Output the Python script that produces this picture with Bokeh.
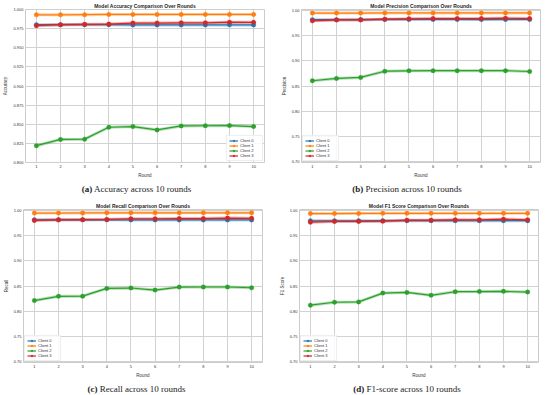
from bokeh.plotting import figure
from bokeh.layouts import column, row
from bokeh.models import Div, Range1d, FixedTicker, NumeralTickFormatter
from bokeh.embed import file_html
from bokeh.resources import INLINE

rounds = [1, 2, 3, 4, 5, 6, 7, 8, 9, 10]
clients = ["Client 0", "Client 1", "Client 2", "Client 3"]
colors = ["#1f77b4", "#ff7f0e", "#2ca02c", "#d62728"]

acc_c0 = [0.9805, 0.9805, 0.9805, 0.9805, 0.9803, 0.9803, 0.9803, 0.9802, 0.9804, 0.9803]
acc_c1 = [0.9935, 0.9935, 0.9937, 0.9940, 0.9940, 0.9940, 0.9940, 0.9940, 0.9940, 0.9940]
acc_c2 = [0.8216, 0.8298, 0.8302, 0.8458, 0.8467, 0.8423, 0.8475, 0.8478, 0.8480, 0.8467]
acc_c3 = [0.9793, 0.9806, 0.9810, 0.9814, 0.9827, 0.9827, 0.9830, 0.9830, 0.9838, 0.9836]

prec_c0 = [0.9810, 0.9810, 0.9812, 0.9815, 0.9815, 0.9815, 0.9813, 0.9812, 0.9814, 0.9813]
prec_c1 = [0.9940, 0.9940, 0.9940, 0.9942, 0.9942, 0.9942, 0.9942, 0.9942, 0.9942, 0.9942]
prec_c2 = [0.8604, 0.8650, 0.8670, 0.8792, 0.8800, 0.8802, 0.8803, 0.8803, 0.8803, 0.8786]
prec_c3 = [0.9786, 0.9805, 0.9805, 0.9820, 0.9825, 0.9830, 0.9830, 0.9830, 0.9838, 0.9830]

rec_c0 = [0.9806, 0.9806, 0.9806, 0.9806, 0.9805, 0.9805, 0.9805, 0.9804, 0.9805, 0.9805]
rec_c1 = [0.9940, 0.9940, 0.9942, 0.9945, 0.9945, 0.9945, 0.9945, 0.9945, 0.9945, 0.9945]
rec_c2 = [0.8212, 0.8297, 0.8300, 0.8452, 0.8460, 0.8420, 0.8478, 0.8480, 0.8480, 0.8465]
rec_c3 = [0.9795, 0.9806, 0.9810, 0.9814, 0.9827, 0.9827, 0.9830, 0.9830, 0.9840, 0.9836]

f1_c0 = [0.9786, 0.9788, 0.9788, 0.9790, 0.9790, 0.9790, 0.9789, 0.9788, 0.9790, 0.9789]
f1_c1 = [0.9930, 0.9930, 0.9932, 0.9935, 0.9935, 0.9935, 0.9935, 0.9935, 0.9935, 0.9935]
f1_c2 = [0.8122, 0.8179, 0.8186, 0.8360, 0.8374, 0.8316, 0.8387, 0.8390, 0.8394, 0.8380]
f1_c3 = [0.9760, 0.9773, 0.9775, 0.9780, 0.9800, 0.9800, 0.9806, 0.9806, 0.9820, 0.9806]

ticks_a = [0.800, 0.825, 0.850, 0.875, 0.900, 0.925, 0.950, 0.975, 1.000]
ticks_b = [0.70, 0.75, 0.80, 0.85, 0.90, 0.95, 1.00]

FONT = "Liberation Sans"


def panel(title, ylabel, series, yr, yticks, yfmt, legend_loc,
          min_left, min_right, top):
    p = figure(frame_width=239, frame_height=153,
               x_range=Range1d(0.55, 10.45), y_range=Range1d(*yr),
               output_backend="svg", toolbar_location=None,
               min_border_left=min_left, min_border_right=min_right,
               min_border_top=top, min_border_bottom=0,
               background_fill_color="white", border_fill_color="white")
    p.title.text = title
    p.title.text_font = FONT
    p.title.text_font_size = "5px"
    p.title.text_font_style = "bold"
    p.title.text_color = "#262626"
    p.title.align = "center"
    p.title.standoff = 1
    p.outline_line_color = "#cccccc"
    p.outline_line_width = 1
    for ax in (p.xaxis[0], p.yaxis[0]):
        ax.axis_line_color = None
        ax.major_tick_line_color = None
        ax.minor_tick_line_color = None
        ax.major_tick_out = 0
        ax.major_tick_in = 0
        ax.minor_tick_out = 0
        ax.minor_tick_in = 0
        ax.major_label_text_font = FONT
        ax.major_label_text_font_size = "4px"
        ax.major_label_text_color = "#333333"
        ax.major_label_standoff = 2
        ax.axis_label_text_font = FONT
        ax.axis_label_text_font_size = "4.5px"
        ax.axis_label_text_font_style = "normal"
        ax.axis_label_text_color = "#333333"
        ax.axis_label_standoff = 2
    p.xaxis.axis_label = "Round"
    p.yaxis.axis_label = ylabel
    p.xaxis.ticker = FixedTicker(ticks=rounds)
    p.yaxis.ticker = FixedTicker(ticks=yticks)
    p.yaxis.formatter = NumeralTickFormatter(format=yfmt)
    p.xgrid.grid_line_color = "#d2d2d2"
    p.ygrid.grid_line_color = "#d2d2d2"
    p.xgrid.grid_line_width = 1
    p.ygrid.grid_line_width = 1
    for name, col, ys in zip(clients, colors, series):
        p.line(rounds, ys, line_color=col, line_width=3.0, line_alpha=0.35)
        p.line(rounds, ys, line_color=col, line_width=1.2, legend_label=name)
        p.scatter(rounds, ys, marker="circle", size=4.5, fill_color=col,
                  line_color=col, line_width=0.3, legend_label=name)
    lg = p.legend[0]
    lg.location = legend_loc
    lg.label_text_font = FONT
    lg.label_text_font_size = "4px"
    lg.label_text_color = "#333333"
    lg.glyph_width = 9
    lg.glyph_height = 5
    lg.label_height = 5
    lg.label_standoff = 2
    lg.spacing = 0
    lg.padding = 2
    lg.margin = 1
    lg.border_line_color = "#dddddd"
    lg.border_line_width = 0.6
    lg.background_fill_alpha = 0.85
    return p


pa = panel("Model Accuracy Comparison Over Rounds", "Accuracy",
           [acc_c0, acc_c1, acc_c2, acc_c3], (0.7995, 1.0005), ticks_a, "0.000",
           "bottom_right", 20, 14, 9)
pb = panel("Model Precision Comparison Over Rounds", "Precision",
           [prec_c0, prec_c1, prec_c2, prec_c3], (0.699, 1.001), ticks_b, "0.00",
           "bottom_left", 19, 10, 9)
pc = panel("Model Recall Comparison Over Rounds", "Recall",
           [rec_c0, rec_c1, rec_c2, rec_c3], (0.699, 1.001), ticks_b, "0.00",
           "bottom_left", 20, 14, 12)
pd = panel("Model F1 Score Comparison Over Rounds", "F1 Score",
           [f1_c0, f1_c1, f1_c2, f1_c3], (0.699, 1.001), ticks_b, "0.00",
           "bottom_left", 19, 10, 12)


def caption(letter, text, w):
    return Div(text="<b>(" + letter + ")</b> " + text, width=w, height=17,
               margin=0,
               styles={"text-align": "center", "font-family": "'Liberation Serif', serif",
                       "font-size": "9px", "color": "#222222", "padding-top": "3px",
                       "width": str(w) + "px"})


ca = caption("a", "Accuracy across 10 rounds", 273)
cb = caption("b", "Precision across 10 rounds", 268)
cc = caption("c", "Recall across 10 rounds", 273)
cd = caption("d", "F1-score across 10 rounds", 268)

layout = column(row(pa, pb, spacing=0), row(ca, cb, spacing=0),
                row(pc, pd, spacing=0), row(cc, cd, spacing=0), spacing=0)

open("out.html", "w").write(file_html(layout, INLINE))
